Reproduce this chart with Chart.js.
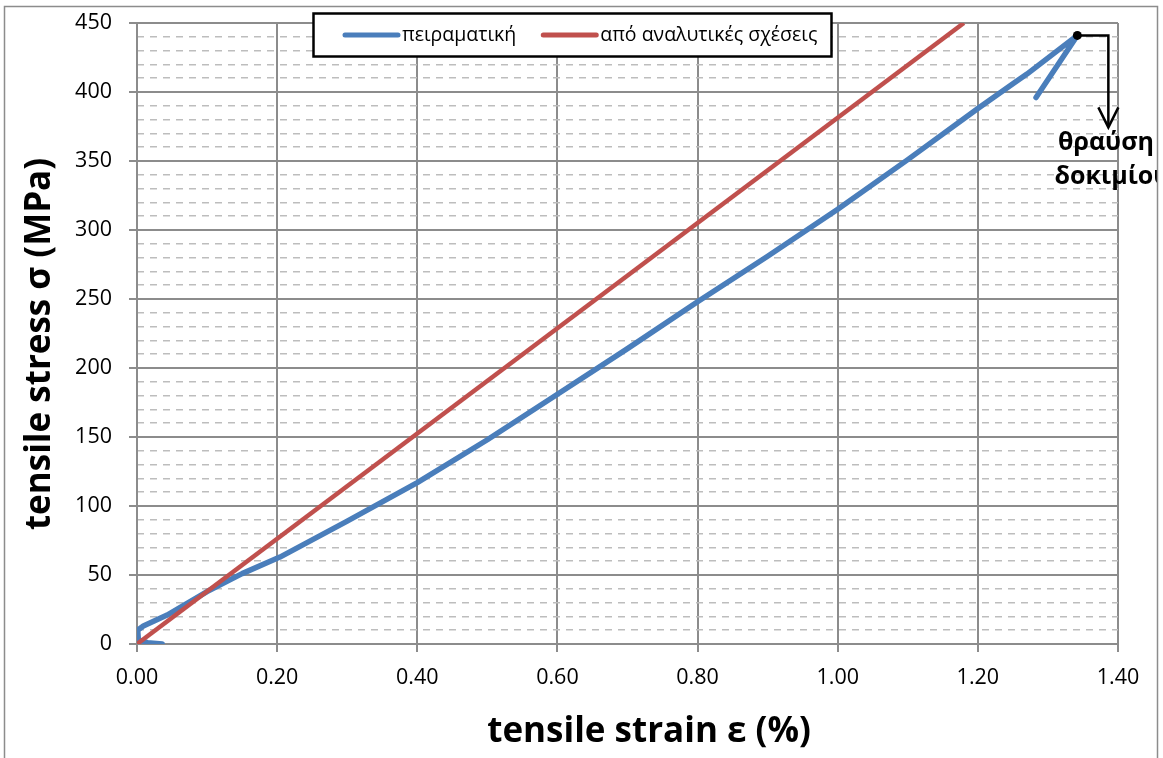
<!DOCTYPE html>
<html>
<head>
<meta charset="utf-8">
<script src="https://cdn.jsdelivr.net/npm/chart.js@4.4.0/dist/chart.umd.min.js"></script>
<style>
  html, body { margin: 0; padding: 0; background: #fff; }
  canvas { display: block; }
</style>
</head>
<body>
<canvas id="myChart" width="1163" height="758"></canvas>
<script>
// series names (legend)
let seriesNames = ['πειραματική', 'από αναλυτικές σχέσεις'];

let expStrain = [0.036, 0.015, 0.002, 0.001, 0.009, 0.043, 0.10, 0.15, 0.204, 0.30, 0.40, 0.50, 0.60, 0.70, 0.80, 0.90, 1.00, 1.10, 1.20, 1.25, 1.27, 1.342, 1.283];
let expStress = [0, 1, 3, 10, 13, 21, 38, 51, 63, 89, 117, 148, 181, 214, 248, 281, 315, 351, 388, 406, 413, 441, 396];

// analytical line
let anaStrain = [0, 1.18];
let anaStress = [0, 450];

// axis ticks
let xTicks = [0, 0.2, 0.4, 0.6, 0.8, 1.0, 1.2, 1.4];
let yTicks = [0, 50, 100, 150, 200, 250, 300, 350, 400, 450];
let yMinorTicks = [10, 20, 30, 40, 60, 70, 80, 90, 110, 120, 130, 140, 160, 170, 180, 190, 210, 220, 230, 240,
                   260, 270, 280, 290, 310, 320, 330, 340, 360, 370, 380, 390, 410, 420, 430, 440];

let xTitle = 'tensile strain ε (%)';
let yTitle = 'tensile stress σ (MPa)';
let breakNote = ['θραύση', 'δοκιμίου'];

let blue = '#4A7EBB';
let red = '#C0504D';
let fontFam = '"Open Sans", "Noto Sans", sans-serif';

function toPoints(xs, ys) {
    return xs.map((x, i) => ({ x: x, y: ys[i] }));
}

// index of the max stress (fracture point)
let peakIndex = expStress.indexOf(Math.max(...expStress));

let extras = {
    id: 'extras',
    afterDraw(chart) {
        let ctx = chart.ctx;
        let xs = chart.scales.x, ys = chart.scales.y;
        ctx.save();

        // axis titles
        ctx.fillStyle = '#000';
        ctx.font = 'bold 35px ' + fontFam;
        ctx.textAlign = 'center';
        ctx.textBaseline = 'middle';
        ctx.fillText(xTitle, 649, 732);
        ctx.save();
        ctx.translate(40, 344);
        ctx.rotate(-Math.PI / 2);
        ctx.fillText(yTitle, 0, 0);
        ctx.restore();

        // legend box
        ctx.fillStyle = '#fff';
        ctx.fillRect(313, 13, 519, 44);
        ctx.strokeStyle = '#000';
        ctx.lineWidth = 2.5;
        ctx.strokeRect(313.5, 13.5, 518, 43);
        ctx.font = '19.5px ' + fontFam;
        ctx.textAlign = 'left';
        let lx = 345;
        let colors = [blue, red];
        seriesNames.forEach((name, i) => {
            ctx.strokeStyle = colors[i];
            ctx.lineWidth = 5;
            ctx.lineCap = 'round';
            ctx.beginPath();
            ctx.moveTo(lx, 35);
            ctx.lineTo(lx + 53, 35);
            ctx.stroke();
            ctx.fillStyle = '#000';
            ctx.fillText(name, lx + 57, 35);
            lx = lx + 57 + ctx.measureText(name).width + 27;
        });

        // fracture arrow
        let px = xs.getPixelForValue(expStrain[peakIndex]);
        let py = ys.getPixelForValue(expStress[peakIndex]);
        ctx.strokeStyle = '#000';
        ctx.lineWidth = 2.5;
        ctx.lineCap = 'butt';
        ctx.lineJoin = 'miter';
        ctx.beginPath();
        ctx.moveTo(px, py);
        ctx.lineTo(px + 31, py);
        ctx.lineTo(px + 31, py + 91);
        ctx.stroke();
        ctx.beginPath();
        ctx.moveTo(px + 21, py + 72);
        ctx.lineTo(px + 31, py + 92);
        ctx.lineTo(px + 41, py + 72);
        ctx.stroke();

        // note text, cut by the frame
        ctx.save();
        ctx.beginPath();
        ctx.rect(0, 0, 1157, 758);
        ctx.clip();
        ctx.font = 'bold 25px ' + fontFam;
        ctx.textAlign = 'center';
        ctx.fillStyle = '#000';
        ctx.fillText(breakNote[0], 1106, 143);
        ctx.fillText(breakNote[1], 1112, 177);
        ctx.restore();

        // outer frame
        ctx.strokeStyle = '#8c8c8c';
        ctx.lineWidth = 1.5;
        ctx.strokeRect(4.5, 6.5, 1153, 800);
        ctx.restore();
    }
};

let chartCtx = document.getElementById('myChart').getContext('2d');
let myChart = new Chart(chartCtx, {
    type: 'scatter',
    data: {
        datasets: [{
            label: seriesNames[0],
            data: toPoints(expStrain, expStress),
            showLine: true,
            borderColor: blue,
            backgroundColor: '#000',
            borderWidth: 5.5,
            borderCapStyle: 'round',
            borderJoinStyle: 'round',
            pointRadius: (c) => c.dataIndex === peakIndex ? 4.5 : 0,
            pointBorderWidth: 0,
            pointBackgroundColor: '#000',
            tension: 0,
            order: 1
        }, {
            label: seriesNames[1],
            data: toPoints(anaStrain, anaStress),
            showLine: true,
            borderColor: red,
            borderWidth: 4.5,
            pointRadius: 0,
            tension: 0,
            order: 0
        }]
    },
    options: {
        responsive: false,
        animation: false,
        layout: { padding: { left: 0, right: 45, top: 23, bottom: 0 } },
        plugins: {
            legend: { display: false },
            tooltip: { enabled: false }
        },
        scales: {
            x: {
                type: 'linear',
                min: 0,
                max: 1.4,
                afterBuildTicks: (s) => { s.ticks = xTicks.map(v => ({ value: v })); },
                afterFit: (s) => { s.height = 114; s.paddingLeft = 0; s.paddingRight = 0; },
                ticks: {
                    color: '#000',
                    font: { family: fontFam, size: 21.5 },
                    padding: 13,
                    maxRotation: 0,
                    callback: (v) => Number(v).toFixed(2)
                },
                grid: { color: '#8c8c8c', lineWidth: 2, tickLength: 8 },
                border: { color: '#8c8c8c', width: 2 }
            },
            y: {
                type: 'linear',
                min: 0,
                max: 450,
                afterBuildTicks: (s) => { s.ticks = yTicks.map(v => ({ value: v })); },
                afterFit: (s) => { s.width = 137; s.paddingTop = 0; s.paddingBottom = 0; },
                ticks: {
                    color: '#000',
                    font: { family: fontFam, size: 21.5 },
                    padding: 17
                },
                grid: { color: '#8c8c8c', lineWidth: 2, tickLength: 8 },
                border: { color: '#8c8c8c', width: 2 }
            },
            yMinor: {
                type: 'linear',
                position: 'left',
                min: 0,
                max: 450,
                afterBuildTicks: (s) => { s.ticks = yMinorTicks.map(v => ({ value: v })); },
                afterFit: (s) => { s.width = 0; s.paddingTop = 0; s.paddingBottom = 0; },
                ticks: { display: false },
                grid: { color: '#bdbdbd', lineWidth: 1.5, drawTicks: false },
                border: { display: false, dash: [7, 6] }
            }
        }
    },
    plugins: [extras]
});
</script>
</body>
</html>
